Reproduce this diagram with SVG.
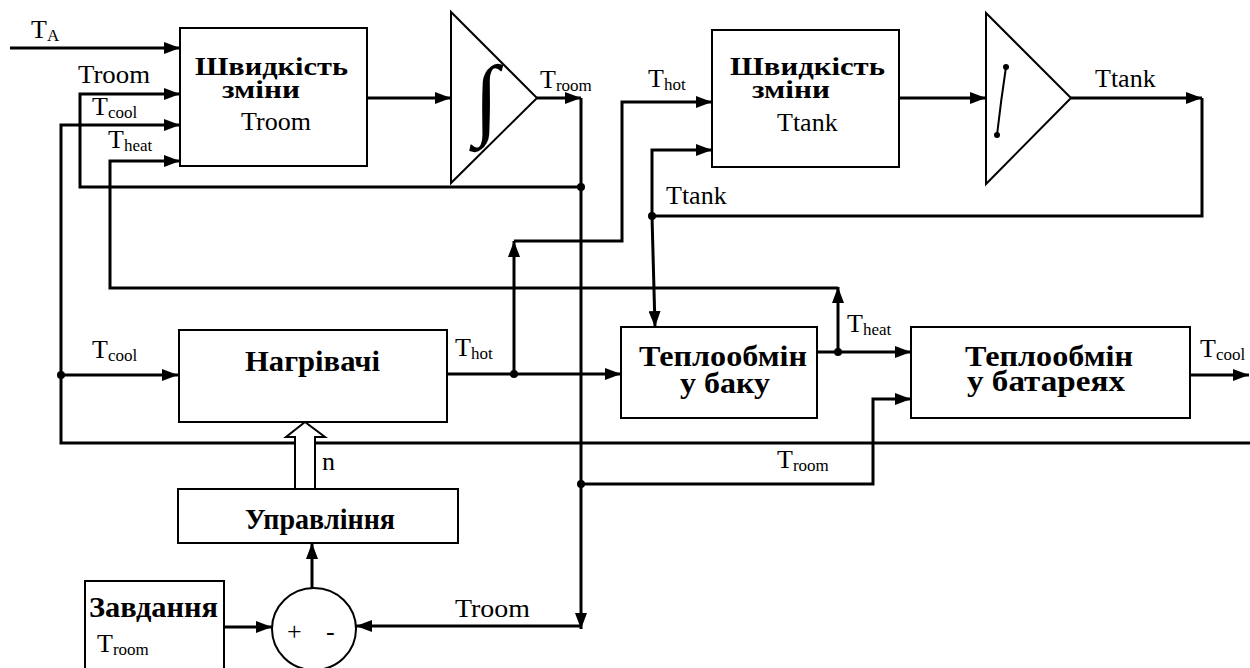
<svg xmlns="http://www.w3.org/2000/svg" width="1250" height="668" viewBox="0 0 1250 668" font-family="Liberation Serif, Times New Roman, DejaVu Serif, Noto Serif, serif">
<style>
.box{fill:#fff;stroke:#000;stroke-width:2}
.ln{fill:none;stroke:#000;stroke-width:3}
.ar{marker-end:url(#ah)}
.dot{fill:#000}
.t{fill:#000}
.b{font-weight:bold;font-size:29px}
.bs{font-weight:bold;font-size:25px}
.n{font-size:26px}
.s{font-size:17px}
</style>
<defs>
<marker id="ah" viewBox="0 0 16 12" refX="16" refY="6" markerWidth="16" markerHeight="12" markerUnits="userSpaceOnUse" orient="auto">
<path d="M0,0 L16,6 L0,12 z" fill="#000"/>
</marker>
</defs>
<rect width="1250" height="668" fill="#fff"/>

<g id="connectors">
<path class="ln ar" d="M10,48 H180"/>
<path class="ln ar" d="M581,187 H80 V94 H180"/>
<path class="ln ar" d="M1250,443 H61 V125 H180"/>
<path class="ln ar" d="M61,375 H178"/>
<path class="ln ar" d="M838,352 V287"/>
<path class="ln ar" d="M838,288 H110 V161 H180"/>
<path class="ln ar" d="M817,352 H911"/>
<path class="ln ar" d="M367,98 H451"/>
<path class="ln ar" d="M537,98 H581"/>
<path class="ln ar" d="M581,98 V629"/>
<path class="ln ar" d="M581,626 H356"/>
<path class="ln ar" d="M581,484 H873 V399 H911"/>
<path class="ln ar" d="M447,374 H621"/>
<path class="ln ar" d="M514,374 V241"/>
<path class="ln ar" d="M514,241 H622 V102 H712"/>
<path class="ln ar" d="M899,98 H986"/>
<path class="ln ar" d="M1071,98 H1202"/>
<path class="ln" d="M1202,98 V216 H652"/>
<path class="ln ar" d="M652,216 V150 H712"/>
<path class="ln ar" d="M652,216 L655,327"/>
<path class="ln ar" d="M1190,375 H1249"/>
<path class="ln ar" d="M224,627 H272"/>
<path class="ln ar" d="M312,588 V543"/>
<polygon points="295,489 295,437 286,437 305,422 325,437 315,437 315,489" fill="#fff" stroke="#000" stroke-width="2"/>
<circle class="dot" cx="581" cy="187" r="4"/>
<circle class="dot" cx="581" cy="484" r="4"/>
<circle class="dot" cx="61" cy="375" r="4"/>
<circle class="dot" cx="838" cy="352" r="4"/>
<circle class="dot" cx="514" cy="374" r="4"/>
<circle class="dot" cx="652" cy="216" r="4"/>
</g>

<g id="labels" class="t">
<text class="n" x="31" y="38">T<tspan class="s" dy="3">A</tspan></text>
<text class="n" x="78" y="83" textLength="72" lengthAdjust="spacingAndGlyphs">Troom</text>
<text class="n" x="92" y="115">T<tspan class="s" dy="3">cool</tspan></text>
<text class="n" x="108" y="148">T<tspan class="s" dy="3">heat</tspan></text>
<text class="n" x="540" y="88">T<tspan class="s" dy="3">room</tspan></text>
<text class="n" x="648" y="87">T<tspan class="s" dy="3">hot</tspan></text>
<text class="n" x="1095" y="87">Ttank</text>
<text class="n" x="666" y="204">Ttank</text>
<text class="n" x="92" y="358">T<tspan class="s" dy="3">cool</tspan></text>
<text class="n" x="455" y="356">T<tspan class="s" dy="3">hot</tspan></text>
<text class="n" x="847" y="332">T<tspan class="s" dy="3">heat</tspan></text>
<text class="n" x="1200" y="357">T<tspan class="s" dy="3">cool</tspan></text>
<text class="n" x="777" y="468">T<tspan class="s" dy="3">room</tspan></text>
<text class="n" x="322" y="470">n</text>
<text class="n" x="455" y="617" textLength="75" lengthAdjust="spacingAndGlyphs">Troom</text>
</g>

<g id="rate-room">
<rect class="box" x="180" y="28" width="187" height="138"/>
<text class="bs" x="195" y="75" textLength="153" lengthAdjust="spacingAndGlyphs">Швидкість</text>
<text class="bs" x="222" y="98" textLength="78" lengthAdjust="spacingAndGlyphs">зміни</text>
<text class="n" x="241" y="130">Troom</text>
</g>

<g id="integrator-room">
<polygon points="451,12 451,183 537,98" fill="#fff" stroke="#000" stroke-width="2"/>
<text x="486" y="128" font-size="90" font-weight="bold" text-anchor="middle">∫</text>
</g>

<g id="rate-tank">
<rect class="box" x="712" y="30" width="187" height="137"/>
<text class="bs" x="730" y="75" textLength="155" lengthAdjust="spacingAndGlyphs">Швидкість</text>
<text class="bs" x="752" y="98" textLength="78" lengthAdjust="spacingAndGlyphs">зміни</text>
<text class="n" x="777" y="131">Ttank</text>
</g>

<g id="integrator-tank">
<polygon points="986,13 986,184 1071,98" fill="#fff" stroke="#000" stroke-width="2"/>
<path d="M1006,67 Q1001,100 997,135" fill="none" stroke="#000" stroke-width="2"/>
<circle class="dot" cx="1006" cy="67" r="3"/>
<circle class="dot" cx="997" cy="135" r="3"/>
</g>

<g id="heaters">
<rect class="box" x="179" y="330" width="268" height="92"/>
<text class="b" x="245" y="371" textLength="135" lengthAdjust="spacingAndGlyphs">Нагрівачі</text>
</g>

<g id="tank-exchange">
<rect class="box" x="621" y="327" width="196" height="91"/>
<text class="b" x="639" y="366" textLength="168" lengthAdjust="spacingAndGlyphs">Теплообмін</text>
<text class="b" x="680" y="393" textLength="90" lengthAdjust="spacingAndGlyphs">у баку</text>
</g>

<g id="radiator-exchange">
<rect class="box" x="911" y="327" width="279" height="91"/>
<text class="b" x="965" y="366" textLength="168" lengthAdjust="spacingAndGlyphs">Теплообмін</text>
<text class="b" x="967" y="391" textLength="158" lengthAdjust="spacingAndGlyphs">у батареях</text>
</g>

<g id="control">
<rect class="box" x="178" y="489" width="280" height="54"/>
<text class="b" x="245" y="529" textLength="150" lengthAdjust="spacingAndGlyphs">Управління</text>
</g>

<g id="setpoint">
<rect class="box" x="85" y="581" width="139" height="100"/>
<text class="b" x="89" y="617" textLength="129" lengthAdjust="spacingAndGlyphs">Завдання</text>
<text class="n" x="97" y="652">T<tspan class="s" dy="3">room</tspan></text>
</g>

<g id="summer">
<ellipse cx="314" cy="629" rx="42" ry="41" fill="#fff" stroke="#000" stroke-width="2"/>
<text class="n" x="287" y="640">+</text>
<text class="n" x="326" y="640">-</text>
</g>
</svg>
